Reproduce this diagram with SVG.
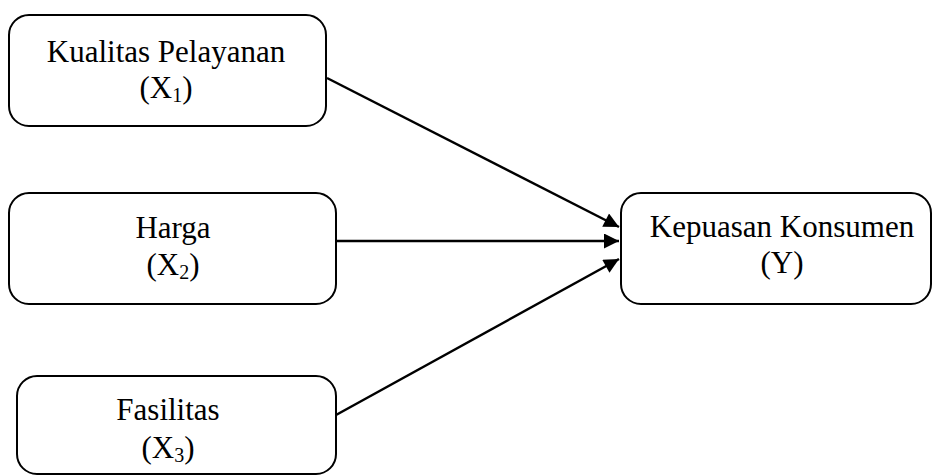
<svg xmlns="http://www.w3.org/2000/svg" width="933" height="475" viewBox="0 0 933 475">
<defs>
<marker id="ah" viewBox="0 0 10 10" refX="10" refY="5" markerWidth="7" markerHeight="6" markerUnits="strokeWidth" orient="auto">
<path d="M0,0 L10,5 L0,10 z" fill="#000"/>
</marker>
</defs>
<style>
.box{fill:#fff;stroke:#000;stroke-width:2}
.t{font-family:"Liberation Serif","Times New Roman",serif;font-size:31px;fill:#000;text-anchor:middle}
.sub{font-size:20px}
.c{stroke:#000;stroke-width:2.5;fill:none;marker-end:url(#ah)}
</style>
<rect width="933" height="475" fill="#fff"/>
<g id="connectors">
<line class="c" x1="327" y1="78" x2="619" y2="227"/>
<line class="c" x1="336" y1="241" x2="619" y2="241"/>
<line class="c" x1="336" y1="415" x2="619" y2="259"/>
</g>
<g id="x1">
<rect class="box" x="9" y="15" width="317" height="111" rx="20"/>
<text class="t" x="166" y="62">Kualitas Pelayanan</text>
<text class="t" x="166" y="98">(X<tspan class="sub" dy="4">1</tspan><tspan dy="-4">)</tspan></text>
</g>
<g id="x2">
<rect class="box" x="9" y="193" width="327" height="111" rx="20"/>
<text class="t" x="173" y="238">Harga</text>
<text class="t" x="173" y="275">(X<tspan class="sub" dy="4">2</tspan><tspan dy="-4">)</tspan></text>
</g>
<g id="x3">
<rect class="box" x="17" y="376" width="319" height="98" rx="20"/>
<text class="t" x="168" y="420">Fasilitas</text>
<text class="t" x="168" y="458">(X<tspan class="sub" dy="4">3</tspan><tspan dy="-4">)</tspan></text>
</g>
<g id="y">
<rect class="box" x="621" y="193" width="310" height="111" rx="20"/>
<text class="t" x="782" y="237">Kepuasan Konsumen</text>
<text class="t" x="782" y="273">(Y)</text>
</g>
</svg>
